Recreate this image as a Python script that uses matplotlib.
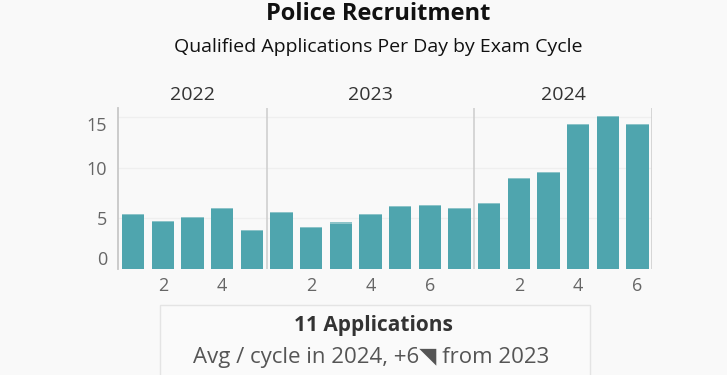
import matplotlib
matplotlib.use("Agg")
import matplotlib.pyplot as plt
from matplotlib.patches import Rectangle

years = ["2022", "2023", "2024"]
values_2022 = [5.45, 4.75, 5.15, 6.05, 3.85]
values_2023 = [5.6, 4.15, 4.6, 5.45, 6.2, 6.35, 6.05]
values_2024 = [6.5, 9.0, 9.6, 14.35, 15.1, 14.35]
y_ticks = [0, 5, 10, 15]
x_tick_cycles = [2, 4, 6]
title = "Police Recruitment"
subtitle = "Qualified Applications Per Day by Exam Cycle"
kpi_main = "11 Applications"
kpi_sub = "Avg / cycle in 2024, +6\u25e5 from 2023"

BG = "#f9f9f9"
BAR = "#4fa5ae"
FONT = "Open Sans"

W, H = 727, 375
fig = plt.figure(figsize=(W / 100, H / 100), dpi=100, facecolor=BG)

x0, x1 = 118.3, 652.3
ytop, ybot = 108, 269
ax = fig.add_axes([x0 / W, 1 - ybot / H, (x1 - x0) / W, (ybot - ytop) / H])
ax.set_facecolor(BG)

series = [values_2022, values_2023, values_2024]
positions, heights, starts = [], [], []
pos = 0
for vals in series:
    starts.append(pos)
    for v in vals:
        positions.append(pos)
        heights.append(v)
        pos += 1
total = pos

ax.bar(positions, heights, width=0.76, color=BAR, edgecolor="none", zorder=3)
ax.bar(positions, [0.12] * len(heights), bottom=[h - 0.12 for h in heights],
       width=0.76, color="#8cc3c8", edgecolor="none", zorder=4)
ax.set_xlim(-0.5, total - 0.5)
ymax = (ybot - ytop) / 10.13
ax.set_ylim(0, ymax)

for s in ["top", "bottom", "right"]:
    ax.spines[s].set_visible(False)
ax.spines["left"].set_color("#c8c8c8")
ax.spines["left"].set_linewidth(1.3)

for st in starts[1:] + [total]:
    ax.axvline(st - 0.5, color="#cccccc", lw=1.1, zorder=2)

for yv in y_ticks[1:]:
    ax.axhline(yv, color="#efefef", lw=1.0, zorder=1)

ax.set_yticks(y_ticks)
ax.set_yticklabels([str(t) for t in y_ticks])
ax.tick_params(axis="y", length=0, pad=8, labelsize=13, labelcolor="#666666")
for lab in ax.get_yticklabels():
    lab.set_fontfamily(FONT)
    if lab.get_text() == "15":
        lab.set_verticalalignment("top")
    elif lab.get_text() == "0":
        lab.set_verticalalignment("bottom")

xt, xl = [], []
for st, vals in zip(starts, series):
    for c in x_tick_cycles:
        if c <= len(vals):
            xt.append(st + c - 1)
            xl.append(str(c))
ax.set_xticks(xt)
ax.set_xticklabels(xl, fontfamily=FONT)
ax.tick_params(axis="x", length=0, pad=6, labelsize=13, labelcolor="#666666")

for yr, st, vals in zip(years, starts, series):
    cx = st - 0.5 + len(vals) / 2
    ax.text(cx, ymax + 1.3, yr, ha="center", va="center", fontsize=14,
            fontfamily=FONT, color="#333333", clip_on=False)

fig.text(378 / W, 1 - 14 / H, title, ha="center", va="center", fontsize=17,
         fontweight="bold", fontfamily=FONT, color="#111111")
fig.text(378 / W, 1 - 47 / H, subtitle, ha="center", va="center", fontsize=14,
         fontfamily=FONT, color="#111111")

box = Rectangle((160 / W, -0.05), (590 - 160) / W, (0.05 + 1 - 304.5 / H),
                transform=fig.transFigure, facecolor="#fafafa",
                edgecolor="#e4e4e4", lw=1.0)
fig.patches.append(box)
fig.text(373 / W, 1 - 326 / H, kpi_main, ha="center", va="center", fontsize=15,
         fontweight="bold", fontfamily=FONT, color="#333333")
fig.text(371 / W, 1 - 358 / H, kpi_sub, ha="center", va="center", fontsize=16,
         fontfamily=[FONT, "DejaVu Sans"], color="#555555")

fig.savefig("out.png", dpi=100, facecolor=BG)
